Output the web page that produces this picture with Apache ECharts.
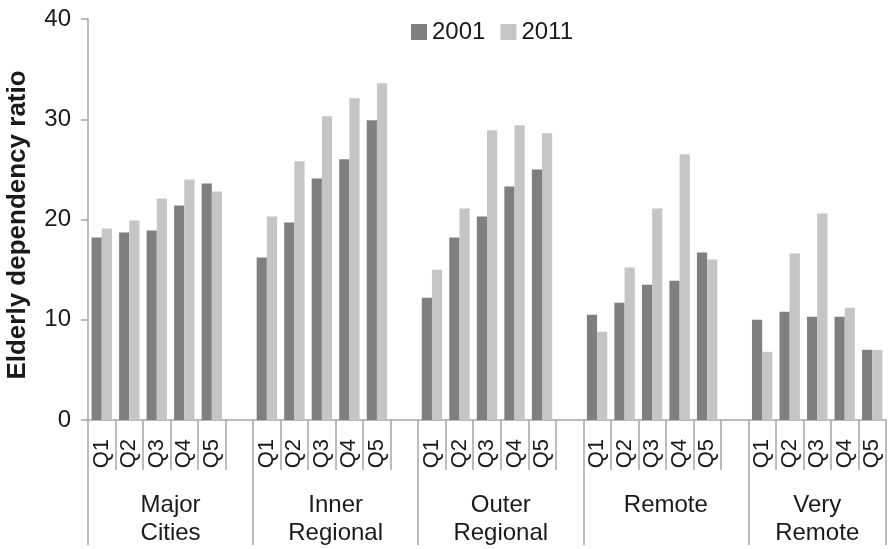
<!DOCTYPE html>
<html>
<head>
<meta charset="utf-8">
<script src="https://cdn.jsdelivr.net/npm/echarts@6/dist/echarts.min.js"></script>
<style>
  html, body { margin: 0; padding: 0; background: #fff; }
  #chart { width: 889px; height: 549px; }
</style>
</head>
<body>
<div id="chart"></div>
<script>
// Remoteness areas, each split into quintiles
const regions = ['Major Cities', 'Inner Regional', 'Outer Regional', 'Remote', 'Very Remote'];
const regionLabels = ['Major\nCities', 'Inner\nRegional', 'Outer\nRegional', 'Remote', 'Very\nRemote'];
const quintiles = ['Q1', 'Q2', 'Q3', 'Q4', 'Q5'];

// Elderly dependency ratio by area and quintile
const ratio2001 = [
  [18.2, 18.7, 18.9, 21.4, 23.6],
  [16.2, 19.7, 24.1, 26.0, 29.9],
  [12.2, 18.2, 20.3, 23.3, 25.0],
  [10.5, 11.7, 13.5, 13.9, 16.7],
  [10.0, 10.8, 10.3, 10.3, 7.0]
];
const ratio2011 = [
  [19.1, 19.9, 22.1, 24.0, 22.8],
  [20.3, 25.8, 30.3, 32.1, 33.6],
  [15.0, 21.1, 28.9, 29.4, 28.6],
  [8.8, 15.2, 21.1, 26.5, 16.0],
  [6.8, 16.6, 20.6, 11.2, 7.0]
];

const yTicks = [0, 10, 20, 30, 40];

// Flatten into one category axis with an empty slot between areas
const categories = [];
const series2001 = [];
const series2011 = [];
const groupBounds = [0];
regions.forEach((r, gi) => {
  quintiles.forEach((q, qi) => {
    categories.push(r + '|' + q);
    series2001.push(ratio2001[gi][qi]);
    series2011.push(ratio2011[gi][qi]);
  });
  if (gi < regions.length - 1) {
    categories.push(r + '|');
    series2001.push('-');
    series2011.push('-');
  }
  groupBounds.push(categories.length);
});
const groupCenters = groupBounds.slice(0, -1).map((b, i) => (b + groupBounds[i + 1]) / 2);

const textColor = '#1a1a1a';
const axisColor = '#a6a6a6';

const chart = echarts.init(document.getElementById('chart'), null, { renderer: 'canvas' });
chart.setOption({
  animation: false,
  backgroundColor: '#ffffff',
  textStyle: { fontFamily: 'Liberation Sans, Arial, sans-serif' },
  legend: {
    top: 20,
    left: 411,
    padding: 0,
    itemWidth: 16,
    itemHeight: 16,
    itemGap: 15,
    icon: 'rect',
    textStyle: { fontSize: 24, color: textColor },
    data: ['2001', '2011']
  },
  grid: { left: 88, right: 3, top: 19, bottom: 129, containLabel: false, outerBoundsMode: 'none' },
  xAxis: [
    {
      type: 'category',
      data: categories,
      position: 'bottom',
      boundaryGap: true,
      axisLine: { show: true, lineStyle: { color: axisColor, width: 1.5 } },
      axisTick: { show: true, interval: 0, length: 50, lineStyle: { color: axisColor, width: 1.5 } },
      axisLabel: {
        interval: 0,
        rotate: 90,
        margin: 19,
        fontSize: 22,
        color: textColor,
        formatter: v => v.split('|')[1]
      },
      splitLine: { show: false }
    },
    {
      type: 'value',
      min: 0,
      max: categories.length,
      position: 'bottom',
      axisLine: { show: false },
      axisTick: {
        show: true,
        length: 125,
        customValues: groupBounds,
        lineStyle: { color: axisColor, width: 1.5 }
      },
      axisLabel: {
        show: true,
        customValues: groupCenters,
        margin: 71,
        fontSize: 24,
        lineHeight: 28,
        align: 'center',
        verticalAlign: 'top',
        color: textColor,
        formatter: v => {
          const i = groupCenters.indexOf(v);
          return i >= 0 ? regionLabels[i] : '';
        }
      },
      splitLine: { show: false }
    }
  ],
  yAxis: {
    type: 'value',
    min: yTicks[0],
    max: yTicks[yTicks.length - 1],
    interval: 10,
    name: 'Elderly dependency ratio',
    nameLocation: 'middle',
    nameRotate: 90,
    nameGap: 57,
    nameTextStyle: { fontSize: 26, fontWeight: 'bold', color: textColor, padding: [0, 11, 0, 0] },
    axisLine: { show: true, lineStyle: { color: axisColor, width: 1.5 } },
    axisTick: { show: true, length: 7, lineStyle: { color: axisColor, width: 1.5 } },
    axisLabel: { fontSize: 24, margin: 17, color: textColor },
    splitLine: { show: false }
  },
  series: [
    {
      name: '2001',
      type: 'bar',
      xAxisIndex: 0,
      data: series2001,
      barGap: '0%',
      barCategoryGap: '26%',
      itemStyle: { color: '#7f7f7f' }
    },
    {
      name: '2011',
      type: 'bar',
      xAxisIndex: 0,
      data: series2011,
      barGap: '0%',
      barCategoryGap: '26%',
      itemStyle: { color: '#c4c5c4' }
    }
  ]
});
</script>
</body>
</html>
